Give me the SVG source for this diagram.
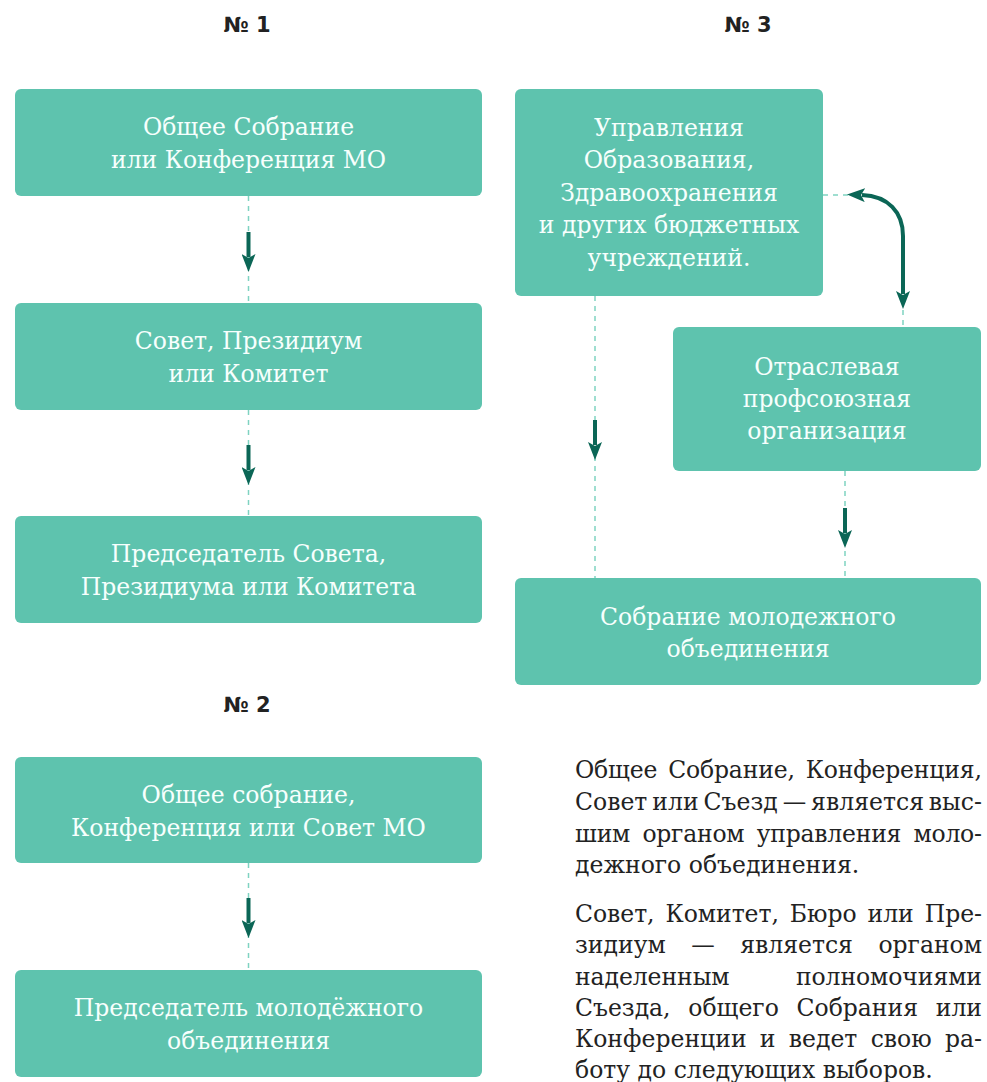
<svg xmlns="http://www.w3.org/2000/svg" width="987" height="1082" viewBox="0 0 987 1082">
<style>
.box{fill:#5EC3AE}
.bt{font-family:"DejaVu Serif","Liberation Serif",serif;font-size:23.5px;fill:#F7FFFD;text-anchor:middle}
.ttl{font-family:"DejaVu Sans","Liberation Sans",sans-serif;font-weight:bold;font-size:21px;fill:#222;text-anchor:middle}
.dash{stroke:#7FD3C1;stroke-width:1.5;stroke-dasharray:5 5;fill:none}
.arr{stroke:#0B6656;stroke-width:4;fill:none;marker-end:url(#ah)}
.para{font-family:"DejaVu Serif","Liberation Serif",serif;font-size:23.5px;fill:#222}
</style>
<defs>
<marker id="ah" markerUnits="userSpaceOnUse" markerWidth="18" markerHeight="14" viewBox="0 0 18 14" refX="3" refY="7" orient="auto-start-reverse">
<path d="M0,0 L18,7 L0,14 L4,7 z" fill="#0B6656"/>
</marker>
</defs>
<g id="titles">
<text class="ttl" x="247" y="32">№ 1</text>
<text class="ttl" x="748" y="32">№ 3</text>
<text class="ttl" x="247" y="712">№ 2</text>
</g>
<g id="connectors">
<line class="dash" x1="248.5" y1="196" x2="248.5" y2="303"/>
<line class="arr" x1="248.5" y1="232" x2="248.5" y2="257"/>
<line class="dash" x1="248.5" y1="410" x2="248.5" y2="516"/>
<line class="arr" x1="248.5" y1="445" x2="248.5" y2="470"/>
<line class="dash" x1="248.5" y1="863" x2="248.5" y2="970"/>
<line class="arr" x1="248.5" y1="898" x2="248.5" y2="923"/>
<line class="dash" x1="595" y1="296" x2="595" y2="578"/>
<line class="arr" x1="595" y1="420" x2="595" y2="445"/>
<line class="dash" x1="845" y1="471" x2="845" y2="578"/>
<line class="arr" x1="845" y1="508" x2="845" y2="533"/>
<line class="dash" x1="823" y1="195" x2="848" y2="195"/>
<line class="dash" x1="903" y1="310" x2="903" y2="327"/>
<path class="arr" style="marker-start:url(#ah)" d="M862,195 C888,196 903,212 903,236 L903,294"/>
</g>
<g id="n1a"><rect class="box" x="15" y="89" width="467" height="107" rx="6"/>
<text class="bt" x="248.5" y="135">Общее Собрание</text><text class="bt" x="248.5" y="168">или Конференция МО</text></g>
<g id="n1b"><rect class="box" x="15" y="303" width="467" height="107" rx="6"/>
<text class="bt" x="248.5" y="349">Совет, Президиум</text><text class="bt" x="248.5" y="382">или Комитет</text></g>
<g id="n1c"><rect class="box" x="15" y="516" width="467" height="107" rx="6"/>
<text class="bt" x="248.5" y="562">Председатель Совета,</text><text class="bt" x="248.5" y="595">Президиума или Комитета</text></g>
<g id="n2a"><rect class="box" x="15" y="757" width="467" height="106" rx="6"/>
<text class="bt" x="248.5" y="803">Общее собрание,</text><text class="bt" x="248.5" y="836">Конференция или Совет МО</text></g>
<g id="n2b"><rect class="box" x="15" y="970" width="467" height="107" rx="6"/>
<text class="bt" x="248.5" y="1016">Председатель молодёжного</text><text class="bt" x="248.5" y="1049">объединения</text></g>
<g id="n3a"><rect class="box" x="515" y="89" width="308" height="207" rx="6"/>
<text class="bt" x="669" y="136">Управления</text><text class="bt" x="669" y="168">Образования,</text><text class="bt" x="669" y="201">Здравоохранения</text><text class="bt" x="669" y="233">и других бюджетных</text><text class="bt" x="669" y="266">учреждений.</text></g>
<g id="n3b"><rect class="box" x="673" y="327" width="308" height="144" rx="6"/>
<text class="bt" x="827" y="375">Отраслевая</text><text class="bt" x="827" y="407">профсоюзная</text><text class="bt" x="827" y="439">организация</text></g>
<g id="n3c"><rect class="box" x="515" y="578" width="466" height="107" rx="6"/>
<text class="bt" x="748" y="625">Собрание молодежного</text><text class="bt" x="748" y="657">объединения</text></g>
<g id="note">
<text class="para" x="575" y="778" style="word-spacing:3.5px" textLength="407" lengthAdjust="spacing">Общее Собрание, Конференция,</text>
<text class="para" x="575" y="810" style="word-spacing:-2.6px" textLength="407" lengthAdjust="spacing">Совет или Съезд — является выс-</text>
<text class="para" x="575" y="842" style="word-spacing:5px" textLength="407" lengthAdjust="spacing">шим органом управления моло-</text>
<text class="para" x="575" y="873">дежного объединения.</text>
<text class="para" x="575" y="922" style="word-spacing:3.5px" textLength="407" lengthAdjust="spacing">Совет, Комитет, Бюро или Пре-</text>
<text class="para" x="575" y="953" style="word-spacing:18px" textLength="407" lengthAdjust="spacing">зидиум — является органом</text>
<text class="para" x="575" y="985" style="word-spacing:59px" textLength="407" lengthAdjust="spacing">наделенным полномочиями</text>
<text class="para" x="575" y="1016" style="word-spacing:10.3px" textLength="407" lengthAdjust="spacing">Съезда, общего Собрания или</text>
<text class="para" x="575" y="1047" style="word-spacing:5.75px" textLength="407" lengthAdjust="spacing">Конференции и ведет свою ра-</text>
<text class="para" x="575" y="1078">боту до следующих выборов.</text>
</g>
</svg>
